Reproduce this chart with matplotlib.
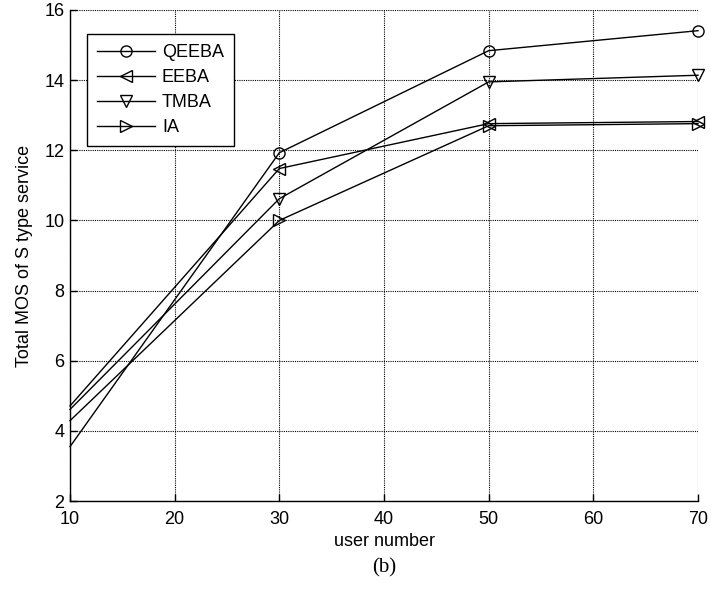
import matplotlib
matplotlib.use("Agg")
import matplotlib.pyplot as plt

plt.rcParams['font.family'] = ['Liberation Sans', 'DejaVu Sans']

users = [10, 30, 50, 70]
qeeba = [3.55, 11.93, 14.84, 15.41]
eeba = [4.71, 11.48, 12.76, 12.82]
tmba = [4.61, 10.62, 13.95, 14.14]
ia = [4.29, 10.00, 12.70, 12.76]

series = [("QEEBA", qeeba, "o"), ("EEBA", eeba, "<"), ("TMBA", tmba, "v"), ("IA", ia, ">")]
xticks = [10, 20, 30, 40, 50, 60, 70]
yticks = [2, 4, 6, 8, 10, 12, 14, 16]

FS = 13

fig = plt.figure(figsize=(7.11, 6.02), dpi=100)
ax = fig.add_axes([70/711, 1 - 501/602, 628/711, 491/602])

for name, vals, m in series:
    ax.plot(users, vals, color='black', linewidth=1.0, marker=m, markersize=8,
            markevery=[1, 2, 3],
            markerfacecolor='none', markeredgecolor='black', markeredgewidth=1.0,
            label=name, clip_on=False, zorder=3)

ax.set_xlim(10, 70)
ax.set_ylim(2, 16)
ax.set_xticks(xticks)
ax.set_yticks(yticks)
ax.grid(True, color='black', linestyle=(0, (1, 1)), linewidth=0.8)
ax.set_axisbelow(True)
for s in ['top', 'right']:
    ax.spines[s].set_visible(False)
for s in ['left', 'bottom']:
    ax.spines[s].set_linewidth(1.0)
ax.tick_params(direction='in', length=5, width=1, labelsize=FS)
ax.tick_params(axis='x', pad=7)
ax.tick_params(axis='y', pad=4)

ax.set_xlabel("user number", fontsize=FS, labelpad=4)
ax.set_ylabel("Total MOS of S type service", fontsize=FS, labelpad=8)

leg = ax.legend(loc='upper left', bbox_to_anchor=(0.027, 0.951), fontsize=FS,
                frameon=True, fancybox=False, edgecolor='black', framealpha=1,
                handlelength=3.2, labelspacing=0.45, borderpad=0.55, handletextpad=0.4,
                borderaxespad=0)
leg.get_frame().set_linewidth(1.0)

fig.text(0.5 * (70 + 698) / 711, 1 - 568/602, "(b)", ha='center', va='center',
         fontsize=15, family=['Liberation Serif', 'DejaVu Serif'])

fig.savefig("out.png", dpi=100)
